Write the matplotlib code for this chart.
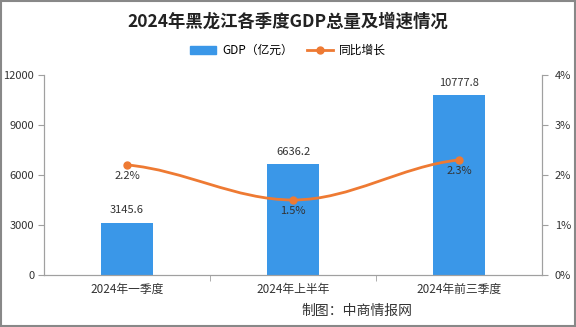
import numpy as np
import matplotlib
matplotlib.use("Agg")
import matplotlib.pyplot as plt
from matplotlib.path import Path
from matplotlib.patches import PathPatch, Rectangle
from matplotlib.lines import Line2D
from matplotlib.ticker import FuncFormatter

plt.rcParams['font.family'] = ['Noto Sans CJK SC', 'DejaVu Sans']

# Data
categories = ['2024年一季度', '2024年上半年', '2024年前三季度']
gdp = [3145.6, 6636.2, 10777.8]
growth = [2.2, 1.5, 2.3]

bar_color = '#3a97e8'
line_color = '#ee7a33'
axis_color = '#a0a0a0'
text_color = '#333333'

fig = plt.figure(figsize=(5.76, 3.27), dpi=100)
fig.patch.set_facecolor('white')
ax = fig.add_axes([0.0764, 0.159, 0.865, 0.612])
ax2 = ax.twinx()

x = np.arange(len(categories))
ax.bar(x, gdp, width=0.31, color=bar_color, zorder=2)
for xi, v in zip(x, gdp):
    ax.text(xi, v + 450, f'{v:.1f}', ha='center', va='bottom', fontsize=8, color=text_color)

ax.set_xlim(-0.5, 2.5)
ax.set_ylim(0, 12000)
ax.set_yticks([0, 3000, 6000, 9000, 12000])
ax2.set_ylim(0, 4)
ax2.set_yticks([0, 1, 2, 3, 4])
ax2.yaxis.set_major_formatter(FuncFormatter(lambda v, p: f'{v:.0f}%'))

ax.set_xticks(x)
ax.set_xticklabels(categories, fontsize=8.5, color=text_color)
ax.set_xticks([0.5, 1.5], minor=True)
ax.tick_params(axis='x', which='major', length=0, pad=6)
ax.tick_params(axis='x', which='minor', length=4, color=axis_color)
ax.tick_params(axis='y', length=4, color=axis_color, labelsize=8, labelcolor=text_color, pad=3)
ax2.tick_params(axis='y', length=4, color=axis_color, labelsize=8, labelcolor=text_color, pad=5)

for a in (ax, ax2):
    a.spines['top'].set_visible(False)
    for s in ('left', 'right', 'bottom'):
        a.spines[s].set_color(axis_color)
        a.spines[s].set_linewidth(0.8)

# smooth growth line through the data points (cubic bezier segments)
pts = list(zip(x, growth))
verts = [pts[0]]
codes = [Path.MOVETO]
k = 0.35
for i in range(len(pts) - 1):
    x0, y0 = pts[i]
    x1, y1 = pts[i + 1]
    dx = (x1 - x0) * k
    verts += [(x0 + dx, y0 + (y1 - y0) * 0.15 if i == 0 else y0),
              (x1 - dx, y1 if i == 0 else y1 - (y1 - y0) * 0.15),
              (x1, y1)]
    codes += [Path.CURVE4, Path.CURVE4, Path.CURVE4]
ax2.add_patch(PathPatch(Path(verts, codes), facecolor='none', edgecolor=line_color,
                        lw=2, zorder=3))
ax2.plot(x, growth, 'o', color=line_color, ms=5, zorder=4)
for xi, v in zip(x, growth):
    ax2.text(xi, v - 0.12, f'{v:.1f}%', ha='center', va='top', fontsize=8, color=text_color)

# title and legend
fig.text(0.5, 0.935, '2024年黑龙江各季度GDP总量及增速情况', ha='center', va='center',
         fontsize=12.5, fontweight='bold', color='#222222')
handles = [Rectangle((0, 0), 1, 1, color=bar_color),
           Line2D([0], [0], color=line_color, lw=2, marker='o', ms=5)]
fig.legend(handles, ['GDP（亿元）', '同比增长'], loc='center', bbox_to_anchor=(0.5, 0.845),
           ncol=2, frameon=False, fontsize=8.5, handlelength=2.2, columnspacing=1.2,
           handletextpad=0.5)

fig.text(0.62, 0.05, '制图：中商情报网', ha='center', va='center', fontsize=10, color=text_color)

# gray frame around the figure
fig.add_artist(Rectangle((0.002, 0.003), 0.996, 0.994, transform=fig.transFigure,
                         fill=False, edgecolor='#888888', lw=1.5))

fig.savefig('out.png', dpi=100)
